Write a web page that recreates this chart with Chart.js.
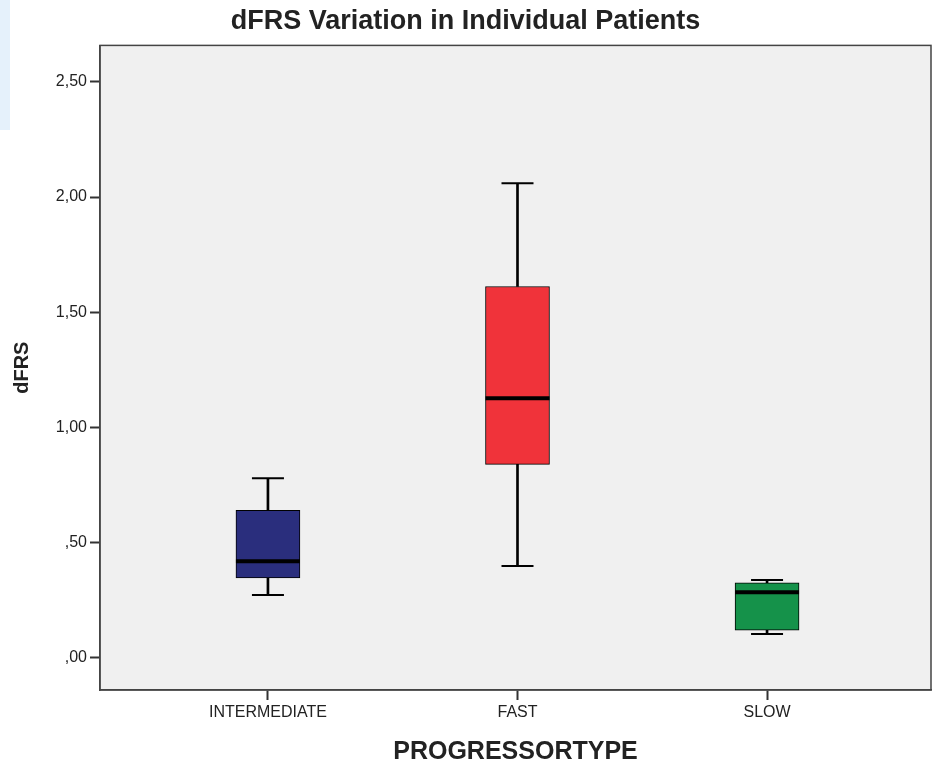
<!DOCTYPE html>
<html>
<head>
<meta charset="utf-8">
<script src="https://cdn.jsdelivr.net/npm/chart.js@4/dist/chart.umd.min.js"></script>
<style>
    html, body { margin: 0; padding: 0; background: #fff; }
    #wrap { position: relative; width: 933px; height: 770px; }
    #tab { position: absolute; left: 0; top: 0; width: 10px; height: 130px; background: #e5f1fb; }
</style>
</head>
<body>
<div id="wrap">
    <div id="tab"></div>
    <canvas id="boxChart" width="933" height="770"></canvas>
</div>
<script>
const categories = ['INTERMEDIATE', 'FAST', 'SLOW']
const whiskerLow = [0.273, 0.399, 0.104]
const q1 = [0.347, 0.84, 0.121]
const median = [0.42, 1.127, 0.285]
const q3 = [0.641, 1.612, 0.326]
const whiskerHigh = [0.78, 2.06, 0.338]
const boxColors = ['#2a2e7d', '#f0333a', '#15924a']
const yTicks = [0, 0.5, 1, 1.5, 2, 2.5]

const font = '"Liberation Sans", Arial, sans-serif'
const ink = '#222'

const pts = (lo, hi) => categories.map((c, i) => ({ x: i, y: hi ? [lo[i], hi[i]] : lo[i] }))

// grey plot panel with a frame round it
const panel = {
    id: 'panel',
    beforeDraw: chart => {
        const { ctx, chartArea: a } = chart
        ctx.save()
        ctx.fillStyle = '#f0f0f0'
        ctx.fillRect(a.left, a.top, a.right - a.left, a.bottom - a.top)
        ctx.restore()
    },
    afterDraw: chart => {
        const { ctx, chartArea: a } = chart
        ctx.save()
        ctx.strokeStyle = '#444'
        ctx.lineWidth = 1.5
        ctx.strokeRect(a.left, a.top, a.right - a.left, a.bottom - a.top)
        ctx.restore()
    }
}

const capStyle = {
    type: 'line',
    showLine: false,
    pointStyle: 'line',
    pointRadius: 16,
    pointBorderWidth: 2,
    pointBorderColor: '#000',
    pointHoverRadius: 16,
    order: 1
}

new Chart(document.getElementById('boxChart'), {
    type: 'bar',
    data: {
        datasets: [
            { ...capStyle, data: pts(whiskerLow) },
            { ...capStyle, data: pts(whiskerHigh) },
            {
                type: 'line', showLine: false, data: pts(median),
                pointStyle: 'line', pointRadius: 32, pointBorderWidth: 4,
                pointBorderColor: '#000', order: 0
            },
            {
                data: pts(q1, q3), backgroundColor: boxColors, borderColor: '#000',
                borderWidth: 1, borderSkipped: false, barThickness: 64,
                grouped: false, order: 2
            },
            {
                data: pts(whiskerLow, q1), backgroundColor: '#000',
                barThickness: 2, grouped: false, order: 3
            },
            {
                data: pts(q3, whiskerHigh), backgroundColor: '#000',
                barThickness: 2, grouped: false, order: 3
            }
        ]
    },
    options: {
        responsive: false,
        animation: false,
        // point overflow would otherwise shrink the plot on the right
        layout: { autoPadding: false, padding: { left: 0, right: 2, top: 0, bottom: 0 } },
        plugins: {
            legend: { display: false },
            tooltip: { enabled: false },
            title: {
                display: true,
                text: 'dFRS Variation in Individual Patients',
                color: ink,
                font: { family: font, size: 27, weight: 'bold' },
                padding: { top: 5, bottom: 8 }
            }
        },
        scales: {
            x: {
                type: 'linear',
                offset: false,
                min: -0.673,
                max: 2.657,
                afterBuildTicks: scale => { scale.ticks = categories.map((c, i) => ({ value: i })) },
                afterFit: scale => {
                    scale.height = 80
                    scale.paddingLeft = 0
                    scale.paddingRight = 0
                },
                ticks: {
                    color: ink,
                    font: { family: font, size: 16 },
                    padding: 3,
                    maxRotation: 0,
                    callback: v => categories[v]
                },
                grid: { offset: false, drawOnChartArea: false, tickLength: 10, tickWidth: 2, tickColor: '#333' },
                border: { color: '#444', width: 1.5 },
                title: {
                    display: true,
                    text: 'PROGRESSORTYPE',
                    color: ink,
                    font: { family: font, size: 25, weight: 'bold' },
                    padding: { top: 0, bottom: 3 }
                }
            },
            y: {
                min: -0.139,
                max: 2.658,
                afterBuildTicks: scale => { scale.ticks = yTicks.map(v => ({ value: v })) },
                afterFit: scale => { scale.width = 100 },
                ticks: {
                    color: ink,
                    font: { family: font, size: 16 },
                    padding: 3,
                    callback: v => v.toFixed(2).replace('.', ',').replace(/^0/, '')
                },
                grid: { drawOnChartArea: false, tickLength: 10, tickWidth: 2, tickColor: '#333' },
                border: { color: '#444', width: 1.5 },
                title: {
                    display: true,
                    text: 'dFRS',
                    color: ink,
                    font: { family: font, size: 20, weight: 'bold' },
                    padding: { top: 10, bottom: 0 }
                }
            }
        }
    },
    plugins: [panel]
})
</script>
</body>
</html>
